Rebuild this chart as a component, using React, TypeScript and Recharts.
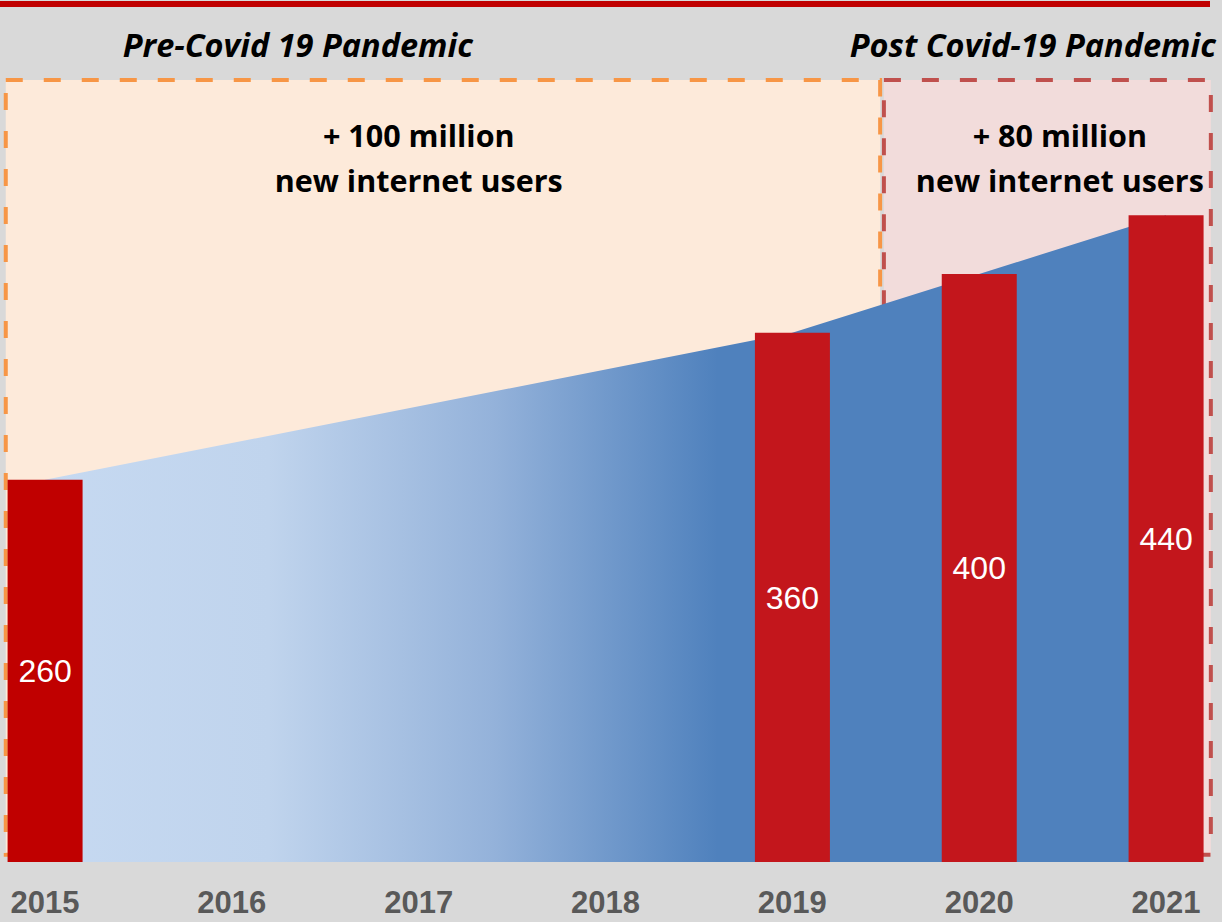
import {
  ComposedChart,
  Area,
  Bar,
  Cell,
  LabelList,
  XAxis,
  YAxis,
  ReferenceArea,
} from 'recharts';

const years = [2015, 2016, 2017, 2018, 2019, 2020, 2021];
const users = [260, null, null, null, 360, 400, 440];
const barColors = ['#c00000', '#c3161c', '#c3161c', '#c3161c', '#c3161c', '#c3161c', '#c3161c'];

const preTitle = 'Pre-Covid 19 Pandemic';
const preGain = ['+ 100 million', 'new internet users'];
const postTitle = 'Post Covid-19 Pandemic';
const postGain = ['+ 80 million', 'new internet users'];

const data = years.map((year, i) => ({ year, users: users[i] }));

const textFont = '"Open Sans", Lato, sans-serif';

// label for a period box: italic title above it, two bold lines inside
function periodLabel(
  title: string,
  lines: string[],
  titleDx: number,
  titleAnchor: 'middle' | 'end',
  textDx: number
) {
  return (props: any) => {
    const { x, y } = props.viewBox;
    return (
      <g>
        <text
          x={x + titleDx}
          y={y - 23}
          textAnchor={titleAnchor}
          fontFamily={textFont}
          fontSize={32.5}
          fontWeight={700}
          fontStyle="italic"
          fill="#000"
        >
          {title}
        </text>
        {lines.map((line, i) => (
          <text
            key={i}
            x={x + textDx}
            y={y + 67 + i * 45}
            textAnchor="middle"
            fontFamily={textFont}
            fontSize={30.5}
            fontWeight={700}
            fill="#000"
          >
            {line}
          </text>
        ))}
      </g>
    );
  };
}

export default function App() {
  return (
    <div
      style={{
        position: 'absolute',
        left: 0,
        top: 0,
        width: 1222,
        height: 922,
        background: '#d9d9d9',
        overflow: 'hidden',
      }}
    >
      <div style={{ position: 'absolute', left: 0, top: 1, width: 1210, height: 6, background: '#c00000' }} />
      <ComposedChart
        width={1222}
        height={922}
        data={data}
        margin={{ top: 127, right: 56, left: 45, bottom: 0 }}
      >
        <defs>
          <linearGradient id="usersFill" x1="0" y1="0" x2="1" y2="0">
            <stop offset="0" stopColor="#c6d9f1" />
            <stop offset="0.2" stopColor="#c0d4ed" />
            <stop offset="0.4" stopColor="#94b2da" />
            <stop offset="0.6" stopColor="#4f81bd" />
            <stop offset="1" stopColor="#4f81bd" />
          </linearGradient>
        </defs>
        <XAxis
          dataKey="year"
          type="number"
          domain={[2015, 2021]}
          ticks={years}
          interval={0}
          height={60}
          axisLine={false}
          tickLine={false}
          tickMargin={23}
          tick={{ fill: '#595959', fontSize: 31, fontWeight: 700, fontFamily: 'Arial, "Liberation Sans", sans-serif' }}
        />
        <YAxis hide domain={[0, 500]} />
        <ReferenceArea
          x1={2019.49}
          x2={2021.24}
          y1={5}
          y2={532}
          ifOverflow="visible"
          fill="#f2dcdb"
          fillOpacity={1}
          stroke="#c0504d"
          strokeWidth={4}
          strokeDasharray="17 21"
          label={periodLabel(postTitle, postGain, 332, 'end', 176)}
        />
        <ReferenceArea
          x1={2014.79}
          x2={2019.47}
          y1={5}
          y2={532}
          ifOverflow="visible"
          fill="#fdeada"
          fillOpacity={1}
          stroke="#f79646"
          strokeWidth={4}
          strokeDasharray="17 21"
          label={periodLabel(preTitle, preGain, 292, 'middle', 413)}
        />
        <Area
          type="linear"
          dataKey="users"
          connectNulls
          stroke="none"
          fill="url(#usersFill)"
          fillOpacity={1}
          isAnimationActive={false}
        />
        <Bar dataKey="users" barSize={75} isAnimationActive={false}>
          {data.map((d, i) => (
            <Cell key={d.year} fill={barColors[i]} />
          ))}
          <LabelList
            dataKey="users"
            position="center"
            fill="#fff"
            fontSize={32}
            fontFamily='Arial, "Liberation Sans", sans-serif'
          />
        </Bar>
      </ComposedChart>
    </div>
  );
}
